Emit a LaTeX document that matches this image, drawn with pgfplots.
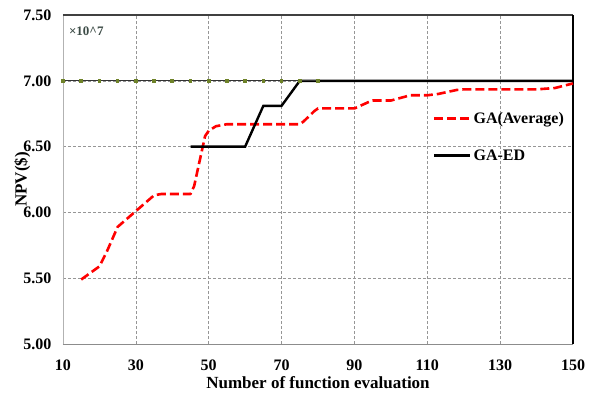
\documentclass[border=0pt]{standalone}
\usepackage{pgfplots}
\pgfplotsset{compat=1.18}
\usepackage{fontspec}
\setmainfont{Liberation Serif}
\definecolor{olivemk}{RGB}{110,130,40}
\definecolor{gridgray}{RGB}{150,150,150}
\definecolor{expcol}{RGB}{60,75,70}
\begin{document}
\begin{tikzpicture}
\path[use as bounding box] (-63pt,-48pt) rectangle (529pt,344pt);
\begin{axis}[
  scale only axis, width=510pt, height=329pt,
  at={(0,0)}, anchor=south west,
  xmin=10, xmax=150, ymin=5, ymax=7.5,
  xtick={10,30,50,70,90,110,130,150},
  ytick={5,5.5,6,6.5,7,7.5},
  /pgf/number format/assume math mode=true,
  yticklabel style={/pgf/number format/fixed, /pgf/number format/fixed zerofill, /pgf/number format/precision=2, xshift=-8pt},
  ticklabel style={font=\fontsize{16}{18}\selectfont\bfseries},
  xticklabel style={yshift=-12pt},
  major tick length=0pt,
  grid=major,
  major grid style={gridgray, densely dashed, line width=0.5pt},
  axis line style={draw=none},
  xlabel={Number of function evaluation},
  ylabel={NPV(\$)},
  label style={font=\fontsize{17}{19}\selectfont\bfseries},
  xlabel style={at={(axis description cs:0.5,-0.118)}, anchor=center},
  ylabel style={at={(axis description cs:-0.080,0.5)}, anchor=center},
  legend style={draw=none, fill=none, at={(axis cs:111.5,6.78)}, anchor=north west,
    font=\fontsize{16}{18}\selectfont\bfseries, row sep=21pt, inner sep=0pt},
  legend cell align=left,
  legend image code/.code={\draw[#1] plot coordinates {(0pt,0pt) (36pt,0pt)};},
  clip=false,
]
% frame
\draw[gray!60, line width=0.8pt] (rel axis cs:0,0) -- (rel axis cs:0,1);
\draw[gray!90, line width=0.8pt] (rel axis cs:0,0) -- (rel axis cs:1,0);
\draw[black!75, line width=1.2pt] (rel axis cs:0,1) -- (rel axis cs:1,1);
\draw[black, line width=1.2pt] (rel axis cs:1,0) -- (rel axis cs:1,1);

\addplot[red, line width=2.6pt, dash pattern=on 9pt off 4pt, line join=round] coordinates {
 (15,5.49) (20,5.59) (22,5.70) (25,5.89) (30,6.01) (35,6.13) (37,6.14) (45,6.14)
 (46,6.20) (49,6.58) (50,6.62) (52,6.655) (55,6.67) (60,6.67) (65,6.67) (70,6.67) (75,6.67)
 (76,6.69) (79,6.77) (80,6.79) (85,6.79) (90,6.79) (94,6.84) (95,6.85) (100,6.85)
 (104,6.88) (105,6.89) (110,6.89) (113,6.90) (118,6.93) (120,6.935) (125,6.935)
 (130,6.935) (135,6.935) (140,6.935) (145,6.945) (150,6.98)
};
\addlegendentry{GA(Average)}
\addplot[black, line width=2.4pt] coordinates {
 (45,6.50) (60,6.50) (65,6.81) (70,6.81) (75,7.00) (150,7.00)
};
\addlegendentry{GA-ED}
\addplot[black!80, line width=1pt, mark=square*, mark size=1.3pt,
  mark options={fill=olivemk, draw=olivemk, solid}, forget plot] coordinates {
 (10,7) (15,7) (20,7) (25,7) (30,7) (35,7) (40,7) (45,7) (50,7) (55,7)
 (60,7) (65,7) (70,7) (75,7) (80,7)
};
\node[anchor=west, font=\fontsize{13}{15}\selectfont\bfseries, text=expcol]
  at (axis description cs:0.005,0.951) {×10\^{}7};
\end{axis}
\end{tikzpicture}
\end{document}
